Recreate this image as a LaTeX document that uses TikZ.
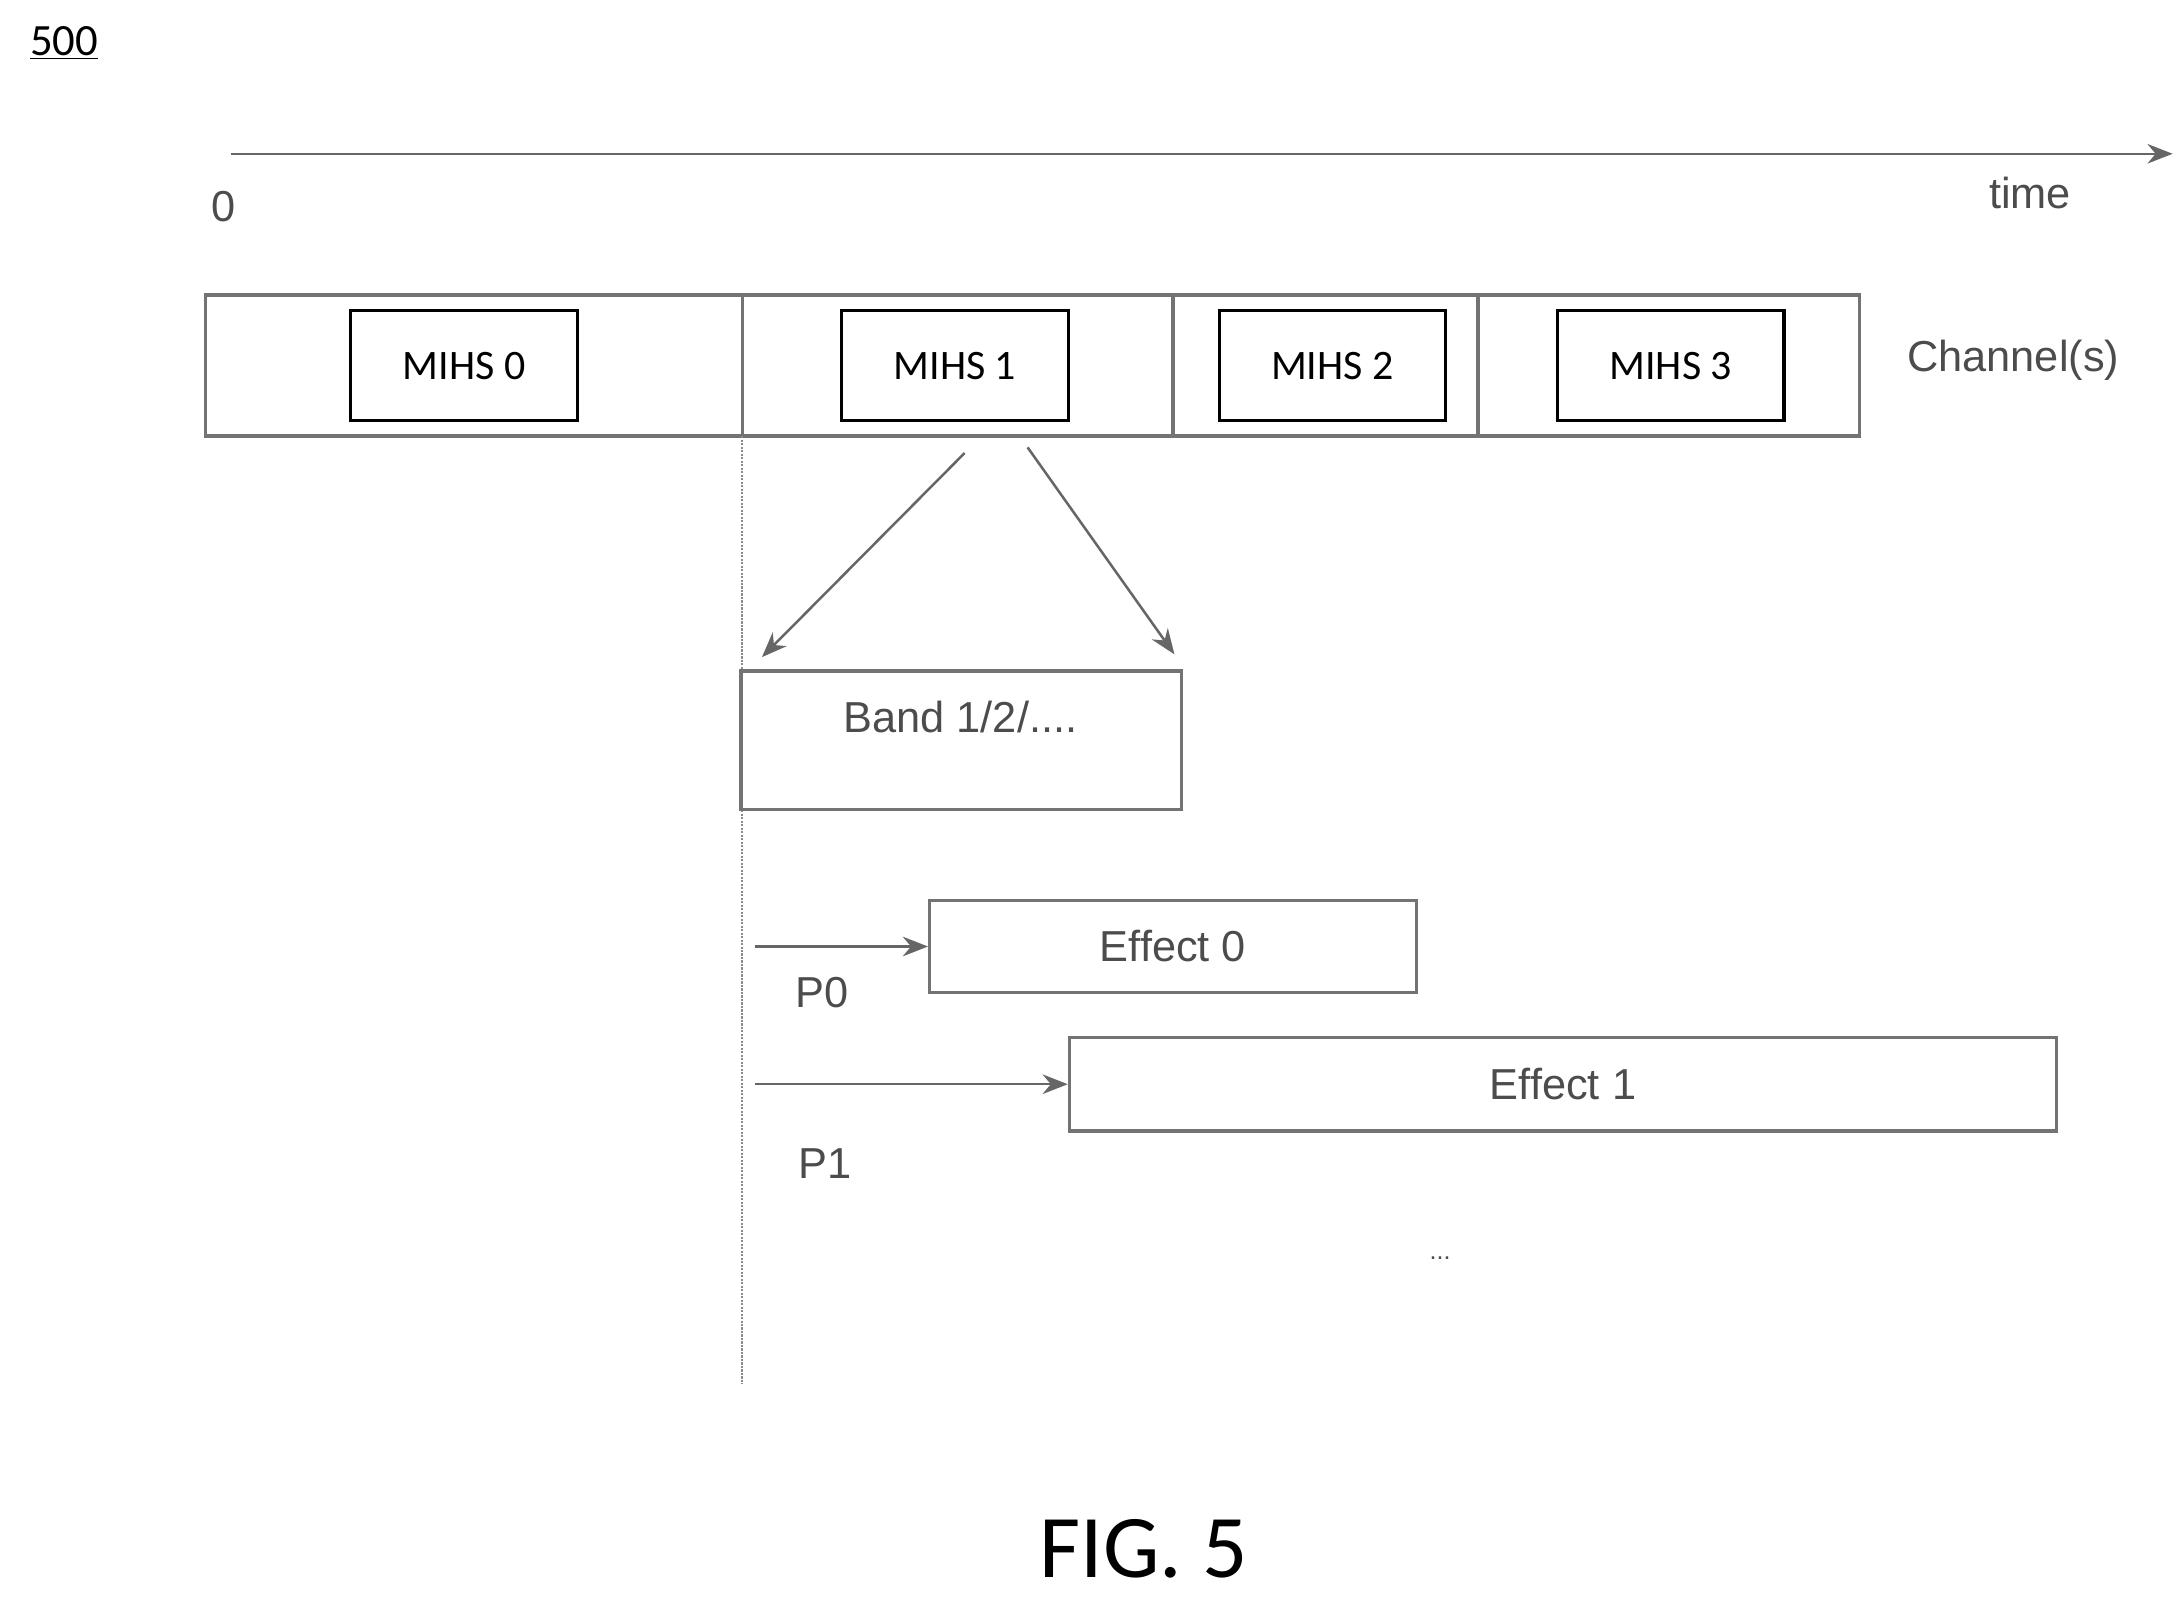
\documentclass[tikz,border=0pt]{standalone}
\usepackage{fontspec}
\setmainfont{Carlito}
\newfontfamily\arialf{Liberation Sans}
\usetikzlibrary{arrows.meta}
\begin{document}
\begin{tikzpicture}[x=1pt,y=-1pt,
  gbox/.style={draw=black!55,line width=2.5pt,inner sep=0},
  mbox/.style={draw=black,line width=2.2pt,minimum width=162pt,minimum height=79pt,font=\fontsize{30}{34}\selectfont},
  glab/.style={text=black!70,font=\arialf\fontsize{31}{34}\selectfont},
  garr/.style={draw=black!60,line width=1.8pt,-{Stealth[length=18pt,width=14pt]}}]
\useasboundingbox (0,0) rectangle (1560,1142);
\node[font=\fontsize{32}{36}\selectfont,anchor=base] (n500) at (46,40) {\underline{500}};
% time axis
\coordinate (t0) at (165,110);
\coordinate (t1) at (1554,110);
\draw[garr] (t0) -- (t1);
\node[glab] (zero) at (160,148) {0};
\node[glab] (time) at (1452,138) {time};
% channel row
\draw[gbox] (147,211) rectangle (1330,312);
\coordinate (d1a) at (531,211); \coordinate (d1b) at (531,312);
\draw[gbox] (d1a) -- (d1b);
\draw[gbox] (839,211) -- (839,312);
\draw[gbox] (1057,211) -- (1057,312);
\node[mbox] (m0) at (332,261.5) {MIHS 0};
\node[mbox] (m1) at (683,261.5) {MIHS 1};
\node[mbox] (m2) at (953,261.5) {MIHS 2};
\node[mbox] (m3) at (1195,261.5) {MIHS 3};
\node[glab] (chan) at (1440,258) {Channel(s)};
% vertical line
\coordinate (v1) at (531,990);
\draw[draw=black!45,line width=1.5pt,densely dotted] (d1b) -- (v1);
% band
\node[gbox,minimum width=315pt,minimum height=99pt] (band) at (687.5,529.5) {};
\node[glab] (bandt) at (687,513) {Band 1/2/....};
\coordinate (a1s) at (690,324); \coordinate (a1e) at (545,470);
\coordinate (a2s) at (735,320); \coordinate (a2e) at (840,468);
\draw[garr] (a1s) -- (a1e);
\draw[garr] (a2s) -- (a2e);
% effects
\node[gbox,minimum width=348pt,minimum height=66pt,glab] (e0) at (839,677) {Effect 0};
\node[gbox,minimum width=706pt,minimum height=67pt,glab] (e1) at (1118,775.5) {Effect 1};
\coordinate (p0s) at (540,677); \coordinate (p1s) at (540,775.5);
\draw[garr] (p0s) -- (e0.west);
\draw[garr] (p1s) -- (e1.west);
\node[glab] (p0) at (588,710) {P0};
\node[glab] (p1) at (590,832) {P1};
\node[glab,font=\arialf\fontsize{18}{20}\selectfont] (dots) at (1030,900) {...};
\node[font=\fontsize{64}{70}\selectfont] (fig) at (818,1108) {FIG. 5};
\end{tikzpicture}
\end{document}
